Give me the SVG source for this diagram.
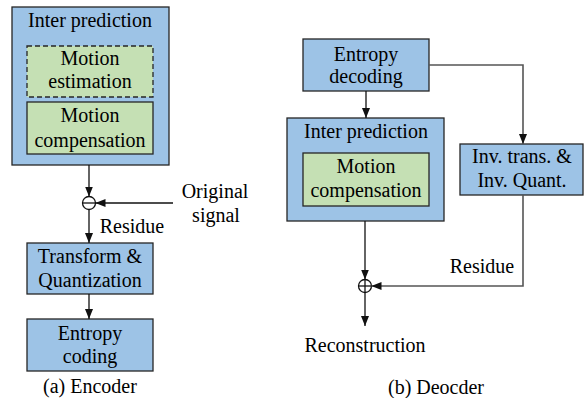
<svg xmlns="http://www.w3.org/2000/svg" width="584" height="398" viewBox="0 0 584 398">
<defs>
<marker id="ah" markerUnits="userSpaceOnUse" markerWidth="10" markerHeight="10" viewBox="0 0 10 10" refX="10" refY="5" orient="auto">
<path d="M0,1 L10,5 L0,9 Z" fill="#111"/>
</marker>
</defs>
<rect width="584" height="398" fill="#fff"/>
<g id="enc-inter">
<rect fill="#9DC3E6" stroke="#262626" stroke-width="1.3" x="12" y="7" width="157" height="158"/>
<text font-family="Liberation Serif" font-size="20" text-anchor="middle" x="90" y="27">Inter prediction</text>
</g>
<g id="enc-me">
<rect fill="#C5E0B4" stroke="#262626" stroke-width="1.3" stroke-dasharray="5,3" x="27" y="46" width="126" height="51"/>
<text font-family="Liberation Serif" font-size="20" text-anchor="middle" x="90" y="65">Motion</text>
<text font-family="Liberation Serif" font-size="20" text-anchor="middle" x="90" y="88">estimation</text>
</g>
<g id="enc-mc">
<rect fill="#C5E0B4" stroke="#262626" stroke-width="1.3" x="27" y="102" width="126" height="52"/>
<text font-family="Liberation Serif" font-size="20" text-anchor="middle" x="90" y="122">Motion</text>
<text font-family="Liberation Serif" font-size="20" text-anchor="middle" x="90" y="147">compensation</text>
</g>
<g id="enc-sub">
<circle fill="#fff" stroke="#111" stroke-width="1.3" cx="89" cy="203" r="6.5"/>
<line stroke="#111" stroke-width="1.3" x1="82.5" y1="203" x2="95.5" y2="203"/>
</g>
<g id="enc-tq">
<rect fill="#9DC3E6" stroke="#262626" stroke-width="1.3" x="27" y="243" width="126" height="51"/>
<text font-family="Liberation Serif" font-size="20" text-anchor="middle" x="90" y="263">Transform &amp;</text>
<text font-family="Liberation Serif" font-size="20" text-anchor="middle" x="90" y="287">Quantization</text>
</g>
<g id="enc-ec">
<rect fill="#9DC3E6" stroke="#262626" stroke-width="1.3" x="27" y="319" width="126" height="52"/>
<text font-family="Liberation Serif" font-size="20" text-anchor="middle" x="90" y="340">Entropy</text>
<text font-family="Liberation Serif" font-size="20" text-anchor="middle" x="90" y="363">coding</text>
</g>
<g id="enc-labels">
<text font-family="Liberation Serif" font-size="20" text-anchor="middle" x="215" y="198">Original</text>
<text font-family="Liberation Serif" font-size="20" text-anchor="middle" x="216" y="222">signal</text>
<text font-family="Liberation Serif" font-size="20" text-anchor="middle" x="132" y="233">Residue</text>
<text font-family="Liberation Serif" font-size="20" text-anchor="middle" x="90" y="393">(a) Encoder</text>
</g>
<g id="dec-ed">
<rect fill="#9DC3E6" stroke="#262626" stroke-width="1.3" x="303" y="39" width="126" height="52"/>
<text font-family="Liberation Serif" font-size="20" text-anchor="middle" x="366" y="61">Entropy</text>
<text font-family="Liberation Serif" font-size="20" text-anchor="middle" x="366" y="83">decoding</text>
</g>
<g id="dec-inter">
<rect fill="#9DC3E6" stroke="#262626" stroke-width="1.3" x="287" y="118" width="157" height="103"/>
<text font-family="Liberation Serif" font-size="20" text-anchor="middle" x="366" y="138">Inter prediction</text>
</g>
<g id="dec-mc">
<rect fill="#C5E0B4" stroke="#262626" stroke-width="1.3" x="303" y="153" width="126" height="53"/>
<text font-family="Liberation Serif" font-size="20" text-anchor="middle" x="366" y="173">Motion</text>
<text font-family="Liberation Serif" font-size="20" text-anchor="middle" x="366" y="197">compensation</text>
</g>
<g id="dec-inv">
<rect fill="#9DC3E6" stroke="#262626" stroke-width="1.3" x="460" y="144" width="123" height="51"/>
<text font-family="Liberation Serif" font-size="20" text-anchor="middle" x="522" y="163">Inv. trans. &amp;</text>
<text font-family="Liberation Serif" font-size="20" text-anchor="middle" x="522" y="187">Inv. Quant.</text>
</g>
<g id="dec-add">
<circle fill="#fff" stroke="#111" stroke-width="1.3" cx="365" cy="286" r="6.5"/>
<line stroke="#111" stroke-width="1.3" x1="358.5" y1="286" x2="371.5" y2="286"/>
<line stroke="#111" stroke-width="1.3" x1="365" y1="279.5" x2="365" y2="292.5"/>
</g>
<g id="dec-labels">
<text font-family="Liberation Serif" font-size="20" text-anchor="middle" x="482" y="273">Residue</text>
<text font-family="Liberation Serif" font-size="20" text-anchor="middle" x="365" y="352">Reconstruction</text>
<text font-family="Liberation Serif" font-size="20" text-anchor="middle" x="436" y="394">(b) Deocder</text>
</g>
<g id="connectors" fill="none" stroke-width="1.3">
<line stroke="#111" x1="89" y1="165" x2="89" y2="196.5" marker-end="url(#ah)"/>
<line stroke="#111" x1="173" y1="203" x2="95.5" y2="203" marker-end="url(#ah)"/>
<line stroke="#111" x1="89" y1="209.5" x2="89" y2="243" marker-end="url(#ah)"/>
<line stroke="#111" x1="89" y1="294" x2="89" y2="319" marker-end="url(#ah)"/>
<line stroke="#111" x1="366" y1="91" x2="366" y2="118" marker-end="url(#ah)"/>
<polyline stroke="#555" stroke-width="1.6" points="429,65 523,65 523,144" marker-end="url(#ah)"/>
<line stroke="#111" x1="365" y1="221" x2="365" y2="279.5" marker-end="url(#ah)"/>
<polyline stroke="#555" stroke-width="1.6" points="523,195 523,286 371.5,286" marker-end="url(#ah)"/>
<line stroke="#111" x1="365" y1="292.5" x2="365" y2="326" marker-end="url(#ah)"/>
</g>
</svg>
